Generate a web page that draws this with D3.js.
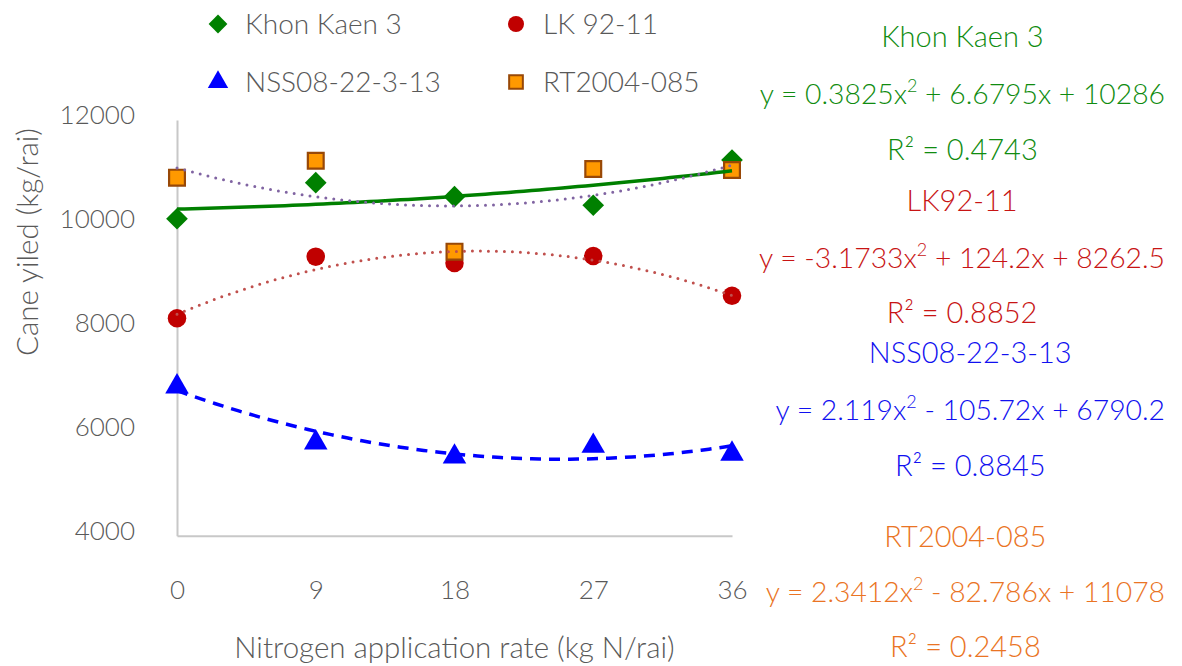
<!DOCTYPE html>
<html>
<head>
<meta charset="utf-8">
<script src="https://cdn.jsdelivr.net/npm/d3@7"></script>
<style>
  body { margin: 0; background: #fff; }
  svg text { font-family: Lato, "Noto Sans", sans-serif; font-weight: 300; }
</style>
</head>
<body>
<svg id="chart" width="1182" height="666"></svg>
<script>
// nitrogen rates on the x axis
const rates = [0, 9, 18, 27, 36];
const seriesNames = ["Khon Kaen 3", "LK 92-11", "NSS08-22-3-13", "RT2004-085"];

// cane yield (kg/rai)
const khonKaen3 = [10100, 10794, 10524, 10359, 11230];
const lk9211 = [8184, 9370, 9248, 9383, 8619];
const nss08 = [6868, 5790, 5520, 5726, 5574];
const rt2004 = [10890, 11217, 9466, 11058, 11039];

// trendline coefficients as printed on the chart: a x^2 + b x + c
const trendCoef = [
  [0.3825, 6.6795, 10286],
  [-3.1733, 124.2, 8262.5],
  [2.119, -105.72, 6790.2],
  [2.3412, -82.786, 11078]
];
const labelTitles = ["Khon Kaen 3", "LK92-11", "NSS08-22-3-13", "RT2004-085"];
const labelEquations = [
  ["y = 0.3825x", "2", " + 6.6795x + 10286"],
  ["y = -3.1733x", "2", " + 124.2x + 8262.5"],
  ["y = 2.119x", "2", " - 105.72x + 6790.2"],
  ["y = 2.3412x", "2", " - 82.786x + 11078"]
];
const labelR2 = ["R\u00b2 = 0.4743", "R\u00b2 = 0.8852", "R\u00b2 = 0.8845", "R\u00b2 = 0.2458"];
const yTicks = [4000, 6000, 8000, 10000, 12000];

const allValues = [khonKaen3, lk9211, nss08, rt2004];
const markerColors = ["#008000", "#c00000", "#0000ff", "#ff9900"];
const trendColors = ["#008000", "#c0504d", "#0000ff", "#8064a2"];
const textColors = ["#108c10", "#c81414", "#1010f0", "#ea7424"];
const symbols = [d3.symbolDiamond2, d3.symbolCircle, d3.symbolTriangle, d3.symbolSquare];

const svg = d3.select("#chart");
const grey = "#595959";

const x = d3.scaleLinear().domain([0, 36]).range([177, 732]);
const y = d3.scaleLinear().domain([4000, 12000]).range([535.7, 120]);

// axes
const xAxis = svg.append("g")
  .attr("transform", `translate(0,${y(4000)})`)
  .call(d3.axisBottom(x).tickValues(rates).tickSize(0).tickPadding(48));
const yAxis = svg.append("g")
  .attr("transform", `translate(${x(0)},0)`)
  .call(d3.axisLeft(y).tickValues(yTicks).tickSize(0).tickPadding(42).tickFormat(d3.format("d")));
[xAxis, yAxis].forEach(g => {
  g.select(".domain").attr("stroke", "#c8c8c8").attr("stroke-width", 2);
  g.selectAll("text").attr("fill", grey).style("font-size", "26px").style("font-family", null);
});
yAxis.selectAll("text").attr("dy", "0.15em");
xAxis.selectAll("text").attr("dy", "0.6em");

svg.append("text")
  .attr("x", (x(0) + x(36)) / 2).attr("y", 658)
  .attr("text-anchor", "middle").attr("fill", grey).style("font-size", "29.5px")
  .text("Nitrogen application rate (kg N/rai)");
svg.append("text")
  .attr("transform", "translate(38,242) rotate(-90)")
  .attr("text-anchor", "middle").attr("fill", grey).style("font-size", "29.5px")
  .text("Cane yiled (kg/rai)");

// markers
const symSizes = [300, 270, 240, 250];
allValues.forEach((vals, i) => {
  svg.append("g").selectAll("path")
    .data(vals)
    .join("path")
    .attr("transform", (d, j) => `translate(${x(rates[j])},${y(d)})`)
    .attr("d", d3.symbol(symbols[i], symSizes[i]))
    .attr("fill", markerColors[i])
    .attr("stroke", i === 3 ? "#984807" : "none")
    .attr("stroke-width", 2.2);
});

// trendlines on top
const xs = d3.range(0, 36.01, 0.5);
const line = d3.line().x(d => x(d[0])).y(d => y(d[1]));
const dashes = [null, "0 8", "11 8", "0 8"];
const caps = ["butt", "round", "butt", "round"];
const widths = [3.5, 3, 3.5, 3];
trendCoef.forEach(([a, b, c], i) => {
  svg.append("path")
    .datum(xs.map(v => [v, a * v * v + b * v + c]))
    .attr("d", line)
    .attr("fill", "none")
    .attr("stroke", trendColors[i])
    .attr("stroke-width", widths[i])
    .attr("stroke-dasharray", dashes[i])
    .attr("stroke-linecap", caps[i]);
});

// legend
const legendPos = [[218, 24], [516, 24], [218, 82], [516, 82]];
seriesNames.forEach((name, i) => {
  const [lx, ly] = legendPos[i];
  svg.append("path")
    .attr("transform", `translate(${lx},${ly})`)
    .attr("d", d3.symbol(symbols[i], symSizes[i] * 0.75))
    .attr("fill", markerColors[i])
    .attr("stroke", i === 3 ? "#984807" : "none")
    .attr("stroke-width", 2);
  svg.append("text")
    .attr("x", lx + 27).attr("y", ly + 10)
    .attr("fill", grey).style("font-size", "28px")
    .text(name);
});

// trendline labels on the right
const blockY = [[37, 94, 150], [201, 258, 313], [353, 410, 466], [537, 592, 647]];
labelEquations.forEach((parts, i) => {
  const [ty, ey, ry] = blockY[i];
  const eq = svg.append("text")
    .attr("x", 1165).attr("y", ey + 10)
    .attr("text-anchor", "end").attr("fill", textColors[i])
    .style("font-size", "28.3px");
  eq.append("tspan").text(parts[0]);
  eq.append("tspan").attr("dy", -12).style("font-size", "18px").text(parts[1]);
  eq.append("tspan").attr("dy", 12).text(parts[2]);
  const w = eq.node().getComputedTextLength();
  const cx = 1165 - w / 2;
  svg.append("text")
    .attr("x", cx).attr("y", ty + 10)
    .attr("text-anchor", "middle").attr("fill", textColors[i])
    .style("font-size", "29px")
    .text(labelTitles[i]);
  svg.append("text")
    .attr("x", cx).attr("y", ry + 10)
    .attr("text-anchor", "middle").attr("fill", textColors[i])
    .style("font-size", "29px")
    .text(labelR2[i]);
});
</script>
</body>
</html>
